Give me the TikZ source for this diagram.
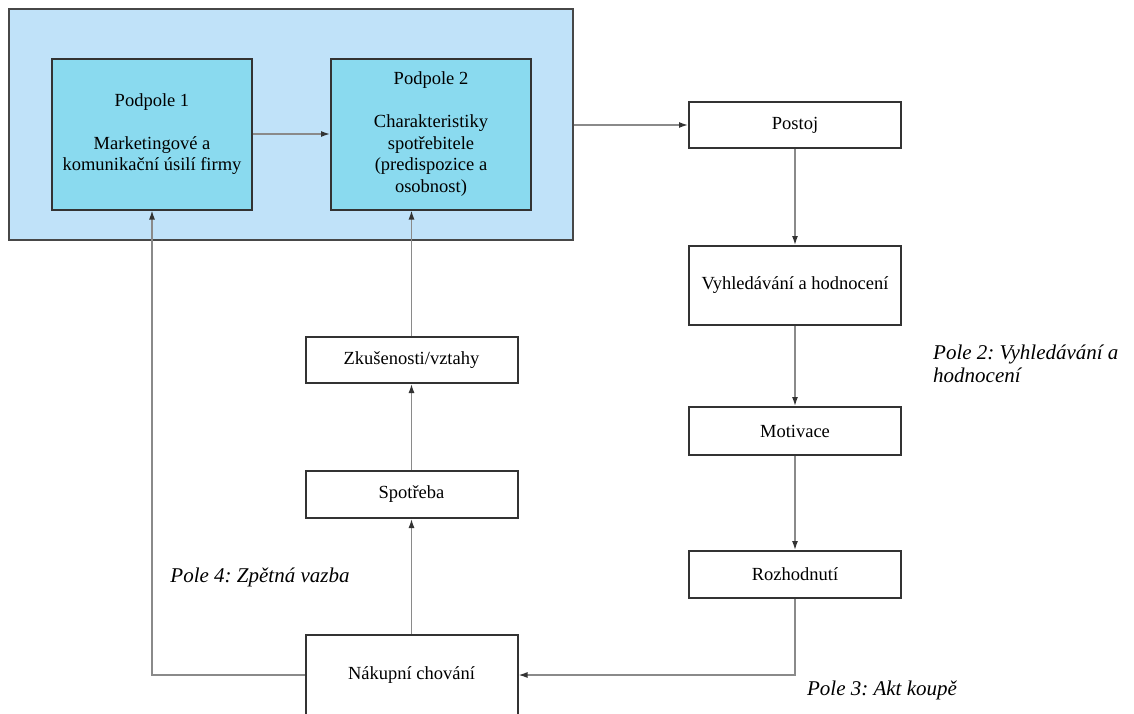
\documentclass[tikz,border=0pt]{standalone}
\usepackage{fontspec}
\setmainfont{Liberation Serif}
\usetikzlibrary{arrows.meta}
\frenchspacing
\definecolor{outerblue}{HTML}{C0E2F9}
\definecolor{innerblue}{HTML}{8ADAEF}
\definecolor{boxline}{HTML}{333333}
\definecolor{conline}{HTML}{8A8A8A}
\tikzset{
  boxtext/.style={font=\fontsize{18.5}{21.5}\selectfont},
  plainbox/.style={draw=boxline, line width=2pt, fill=white, minimum width=212pt, inner sep=0pt, boxtext, align=center},
  subbox/.style={draw=boxline, line width=2pt, fill=innerblue, minimum width=200pt, minimum height=151pt, inner sep=0pt, boxtext, align=center},
  outerbox/.style={draw=boxline!90, line width=2pt, fill=outerblue, minimum width=564pt, minimum height=231pt, inner sep=0pt},
  conn/.style={draw=conline, line width=1.4pt},
  arr/.style={conn, -{Latex[length=9pt,width=6pt,color=boxline]}},
  polelabel/.style={font=\fontsize{21}{23}\selectfont\itshape, inner sep=0pt, align=left}
}
\begin{document}
\begin{tikzpicture}[x=1pt,y=-1pt]
\useasboundingbox (0,0) rectangle (1134,713);
\node[outerbox] (outer) at (291,124) {};
\node[subbox] (p1) at (152,134) {Podpole 1\\[\baselineskip]Marketingové a\\komunikační úsilí firmy};
\node[subbox] (p2) at (431,134) {Podpole 2\\[\baselineskip]Charakteristiky\\spotřebitele\\(predispozice a\\osobnost)};
\node[plainbox, minimum height=46pt] (postoj) at (795,125) {Postoj};
\node[plainbox, minimum height=79pt] (vyhl) at (795,285.5) {Vyhledávání a hodnocení};
\node[plainbox, minimum height=48pt] (motiv) at (795,431) {Motivace};
\node[plainbox, minimum height=47pt] (rozh) at (795,574.5) {Rozhodnutí};
\node[plainbox, minimum height=46pt] (zkus) at (411.5,360) {Zkušenosti/vztahy};
\node[plainbox, minimum height=47pt] (spot) at (411.5,494.5) {Spotřeba};
\node[plainbox, minimum height=80pt] (nakup) at (411.5,675) {Nákupní chování};
\node[polelabel, anchor=west] (pole2) at (933,364) {Pole 2: Vyhledávání a\\hodnocení};
\node[polelabel] (pole3) at (882,690) {Pole 3: Akt koupě};
\node[polelabel] (pole4) at (260,577) {Pole 4: Zpětná vazba};
\draw[arr] (p1.east) -- (p2.west);
\draw[arr] (outer.east |- postoj.west) -- (postoj.west);
\draw[arr] (postoj.south) -- (vyhl.north);
\draw[arr] (vyhl.south) -- (motiv.north);
\draw[arr] (motiv.south) -- (rozh.north);
\draw[arr] (rozh.south) |- (nakup.east);
\draw[arr] (nakup.west) -| (p1.south);
\draw[arr] (nakup.north) -- (spot.south);
\draw[arr] (spot.north) -- (zkus.south);
\draw[arr] (zkus.north) -- (zkus.north |- p2.south);
\end{tikzpicture}
\end{document}
